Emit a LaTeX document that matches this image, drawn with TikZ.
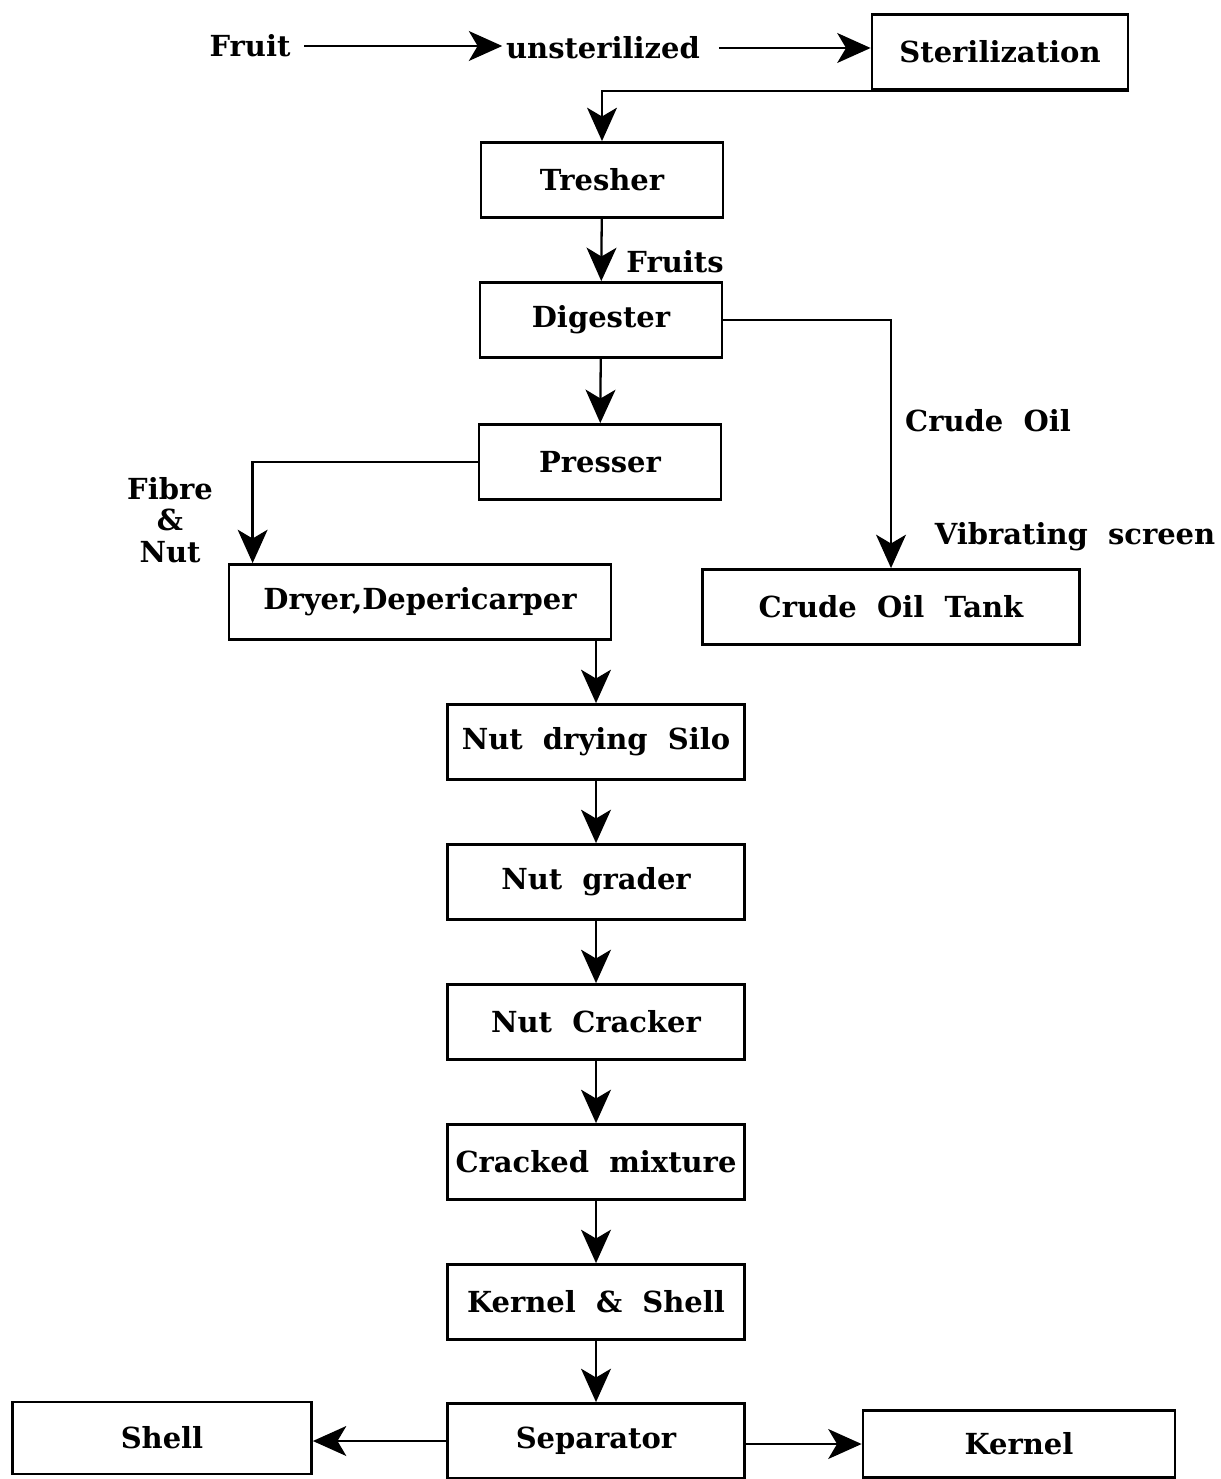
\documentclass[tikz,border=0pt]{standalone}
\usepackage{fontspec}
\setmainfont{DejaVu Serif}
\usetikzlibrary{arrows.meta}

\begin{document}
\begin{tikzpicture}[
    x=0.02cm, y=-0.02cm,
    every node/.style={font=\bfseries\fontsize{16.5}{20}\selectfont},
    box/.style={draw, line width=1.6pt, minimum width=5.94cm, minimum height=1.5cm, inner sep=0pt},
    lbl/.style={inner sep=2pt, align=center},
    flow/.style={line width=1.3pt, -{Stealth[length=19pt, width=17pt, inset=5pt]}}
  ]
    \useasboundingbox (0,0) rectangle (1220,1479);

    % feed line at the top
    \node[lbl] (fruit) at (250,46) {Fruit};
    \node[lbl] (unster) at (603,48) {unsterilized};
    \node[box, minimum width=5.12cm] (steril) at (1000,52) {Sterilization};

    \node[box, minimum width=4.84cm] (tresher) at (602,180) {Tresher};
    \node[box, minimum width=4.84cm] (digester) at (601,320) {Digester};
    \node[box, minimum width=4.84cm] (presser) at (600,462) {Presser};
    \node[box, minimum width=7.64cm] (dryer) at (420,602) {Dryer,Depericarper};
    \node[box, minimum width=7.54cm] (tank) at (891,607) {Crude\ \ Oil\ \ Tank};

    % nut line
    \foreach \nm/\txt/\yy in {silo/Nut\ \ drying\ \ Silo/742, grader/Nut\ \ grader/882,
        cracker/Nut\ \ Cracker/1022, mixture/Cracked\ \ mixture/1162,
        kshell/Kernel\ \ \&\ \ Shell/1302, separator/Separator/1441}
      \node[box] (\nm) at (596,\yy) {\txt};

    \node[box, minimum width=5.98cm, minimum height=1.44cm] (shell) at (162,1438) {Shell};
    \node[box, minimum width=6.24cm, minimum height=1.34cm] (kernel) at (1019,1444) {Kernel};

    % labels
    \node[lbl] at (675,262) {Fruits};
    \node[lbl] at (988,421) {Crude\ \ Oil};
    \node[lbl] at (1075,537) {Vibrating\ \ screen};
    \node[lbl] at (170,520) {Fibre\\[-2pt]\&\\[-2pt]Nut};

    % connectors
    \draw[flow, shorten <=0.2cm] (fruit.east) -- (fruit.east -| unster.west);
    \draw[flow, shorten <=0.3cm] (unster.east) -- (unster.east -| steril.west);
    \draw[flow] (steril.south east) -| (tresher.north);
    \draw[flow] (tresher) -- (digester);
    \draw[flow] (digester) -- (presser);
    \draw[flow] (digester.east) -| (tank.north);
    \draw[flow] (presser.west) -| ([xshift=0.5cm]dryer.north west);
    \draw[flow] (silo.north |- dryer.south) -- (silo.north);
    \foreach \a/\b in {silo/grader, grader/cracker, cracker/mixture, mixture/kshell, kshell/separator}
      \draw[flow] (\a) -- (\b);
    \draw[flow] (separator.west) -- (separator.west -| shell.east);
    \draw[flow] ([yshift=-0.06cm]separator.east) -- ([yshift=-0.06cm]separator.east -| kernel.west);
\end{tikzpicture}
\end{document}
